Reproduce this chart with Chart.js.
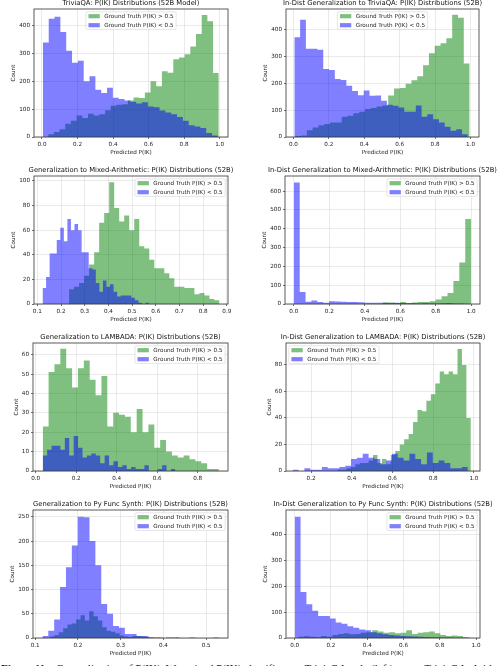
<!DOCTYPE html>
<html>
<head>
<meta charset="utf-8">
<script src="https://cdn.jsdelivr.net/npm/chart.js@4"></script>
<style>
  html, body { margin: 0; padding: 0; background: #fff; width: 500px; height: 666px; overflow: hidden; position: relative; }
  canvas { position: absolute; }
  #caption { position: absolute; left: 1px; top: 662px; font: 11px "Liberation Serif", serif; color: #111; white-space: nowrap; }
</style>
</head>
<body>
<div id="caption"><b>Figure 11</b>&nbsp;&nbsp;&nbsp; Generalization of P(IK). We trained P(IK) classifiers on TriviaQA only (left), or on TriviaQA, Arithmetic,</div>
<script>
// Text
const seriesLabels = ["Ground Truth P(IK) > 0.5", "Ground Truth P(IK) < 0.5"];
const xTitle = "Predicted P(IK)";
const yTitle = "Count";
const titles = [
  "TriviaQA: P(IK) Distributions (52B Model)",
  "In-Dist Generalization to TriviaQA: P(IK) Distributions (52B)",
  "Generalization to Mixed-Arithmetic: P(IK) Distributions (52B)",
  "In-Dist Generalization to Mixed-Arithmetic: P(IK) Distributions (52B)",
  "Generalization to LAMBADA: P(IK) Distributions (52B)",
  "In-Dist Generalization to LAMBADA: P(IK) Distributions (52B)",
  "Generalization to Py Func Synth: P(IK) Distributions (52B)",
  "In-Dist Generalization to Py Func Synth: P(IK) Distributions (52B)"
];

// Tick labels
const xTicksUnit = [0, 0.2, 0.4, 0.6, 0.8, 1.0];
const xTicksArith = [0.1, 0.2, 0.3, 0.4, 0.5, 0.6, 0.7, 0.8, 0.9];
const xTicksLambada = [0, 0.2, 0.4, 0.6, 0.8];
const xTicksLambadaIn = [0.2, 0.4, 0.6, 0.8, 1.0];
const xTicksPy = [0.1, 0.2, 0.3, 0.4, 0.5];
const yTicks400 = [0, 100, 200, 300, 400];
const yTicks100 = [0, 20, 40, 60, 80, 100];
const yTicks600 = [0, 100, 200, 300, 400, 500, 600];
const yTicks60 = [0, 10, 20, 30, 40, 50, 60];
const yTicks80 = [0, 20, 40, 60, 80];
const yTicks250 = [0, 50, 100, 150, 200, 250];

// Histogram counts, each with the [first edge, last edge] of its equal-width bins
const triviaGreenRange = [0.035, 0.995];
const triviaGreen = [10, 18, 28, 48, 58, 77, 68, 84, 77, 82, 96, 112, 116, 118, 131, 142, 140, 160, 200, 182, 236, 231, 279, 286, 297, 325, 370, 438, 416, 230];
const triviaBlueRange = [0.005, 0.99];
const triviaBlue = [340, 425, 432, 377, 310, 267, 274, 200, 218, 170, 158, 177, 141, 137, 131, 127, 120, 125, 110, 107, 95, 88, 82, 72, 58, 42, 38, 32, 14, 5];

const triviaInGreenRange = [0.01, 0.995];
const triviaInGreen = [4, 6, 25, 35, 44, 48, 54, 54, 75, 79, 88, 94, 104, 108, 113, 117, 154, 180, 182, 198, 211, 226, 267, 311, 339, 349, 367, 455, 443, 273];
const triviaInBlueRange = [0.005, 0.985];
const triviaInBlue = [371, 436, 328, 328, 324, 253, 249, 216, 212, 191, 171, 155, 173, 153, 154, 135, 120, 116, 110, 94, 94, 117, 75, 85, 66, 54, 38, 23, 29, 10];

const arithGreenRange = [0.234, 0.869];
const arithGreen = [12, 14, 17, 23, 32, 42, 66, 74, 99, 78, 67, 72, 60, 69, 47, 45, 36, 29, 29, 25, 21, 14, 14, 13, 13, 8, 9, 7, 4, 3];
const arithBlueRange = [0.122, 0.572];
const arithBlue = [13, 22, 41, 41, 52, 62, 51, 69, 60, 65, 60, 42, 42, 29, 28, 17, 10, 19, 14, 16, 10, 6, 7, 7, 7, 5, 3, 1, 0, 1];

const arithInGreenRange = [0.5, 1.0];
const arithInGreen = [8, 8, 5, 10, 5, 8, 11, 11, 14, 24, 41, 58, 122, 220, 452];
const arithInBlueRange = [0.0, 0.99];
const arithInBlue = [646, 64, 12, 19, 11, 7, 15, 13, 12, 11, 11, 9, 7, 7, 6, 6, 5, 6, 5, 4, 4, 3, 4, 3, 3, 4, 5, 3, 2, 1];

const lambadaGreenRange = [0.035, 0.905];
const lambadaGreen = [23, 51, 55, 63, 53, 43, 53, 57, 47, 39, 49, 23, 30, 29, 28, 20, 32, 20, 24, 12, 16, 10, 8, 7, 8, 6, 5, 4, 1, 1];
const lambadaBlueRange = [0.035, 0.69];
const lambadaBlue = [8, 11, 13, 13, 11, 17, 8, 18, 12, 7, 8, 9, 8, 4, 8, 3, 5, 2, 3, 1, 2, 1, 1, 3, 0, 0, 1, 3, 0, 1];

const lambadaInGreenRange = [0.33, 0.985];
const lambadaInGreen = [1, 1, 2, 3, 5, 6, 6, 8, 12, 6, 9, 5, 12, 15, 20, 24, 28, 37, 46, 45, 53, 58, 66, 75, 73, 75, 73, 92, 80, 40];
const lambadaInBlueRange = [0.11, 0.97];
const lambadaInBlue = [1, 0, 2, 1, 1, 3, 2, 2, 3, 4, 9, 10, 13, 10, 9, 5, 8, 13, 10, 8, 13, 9, 5, 14, 6, 8, 6, 2, 2, 3];

const pyGreenRange = [0.135, 0.44];
const pyGreen = [3, 6, 12, 20, 28, 30, 38, 47, 36, 55, 45, 36, 22, 15, 13, 10, 5, 3, 2, 4, 4, 3, 2, 1, 0, 1, 0, 0, 0, 1];
const pyBlueRange = [0.117, 0.53];
const pyBlue = [4, 15, 38, 105, 146, 191, 250, 249, 200, 150, 70, 50, 25, 21, 8, 8, 4, 4, 1, 1, 0, 1, 1, 0, 0, 1, 0, 0, 0, 1];

const pyInGreenRange = [0.02, 0.96];
const pyInGreen = [5, 7, 5, 3, 8, 5, 12, 15, 18, 14, 15, 20, 22, 30, 25, 20, 22, 18, 20, 30, 15, 20, 22, 25, 18, 12, 8, 10, 8, 3];
const pyInBlueRange = [0.0, 0.97];
const pyInBlue = [468, 178, 130, 105, 85, 85, 75, 60, 55, 45, 40, 33, 30, 22, 18, 14, 12, 10, 8, 7, 6, 5, 4, 3, 3, 2, 2, 1, 1, 1];

const panels = [
  {title: titles[0], green: [triviaGreenRange, triviaGreen], blue: [triviaBlueRange, triviaBlue], xTicks: xTicksUnit, xLim: [-0.045, 1.047], yTicks: yTicks400, yMax: 460},
  {title: titles[1], green: [triviaInGreenRange, triviaInGreen], blue: [triviaInBlueRange, triviaInBlue], xTicks: xTicksUnit, xLim: [-0.042, 1.048], yTicks: yTicks400, yMax: 476},
  {title: titles[2], green: [arithGreenRange, arithGreen], blue: [arithBlueRange, arithBlue], xTicks: xTicksArith, xLim: [0.086, 0.905], yTicks: yTicks100, yMax: 104},
  {title: titles[3], green: [arithInGreenRange, arithInGreen], blue: [arithInBlueRange, arithInBlue], xTicks: xTicksUnit, xLim: [-0.05, 1.05], yTicks: yTicks600, yMax: 680},
  {title: titles[4], green: [lambadaGreenRange, lambadaGreen], blue: [lambadaBlueRange, lambadaBlue], xTicks: xTicksLambada, xLim: [-0.013, 0.95], yTicks: yTicks60, yMax: 66},
  {title: titles[5], green: [lambadaInGreenRange, lambadaInGreen], blue: [lambadaInBlueRange, lambadaInBlue], xTicks: xTicksLambadaIn, xLim: [0.077, 1.03], yTicks: yTicks80, yMax: 96.6},
  {title: titles[6], green: [pyGreenRange, pyGreen], blue: [pyBlueRange, pyBlue], xTicks: xTicksPy, xLim: [0.095, 0.551], yTicks: yTicks250, yMax: 264},
  {title: titles[7], green: [pyInGreenRange, pyInGreen], blue: [pyInBlueRange, pyInBlue], xTicks: xTicksUnit, xLim: [-0.048, 1.022], yTicks: yTicks400, yMax: 494}
];

// where each plot box sits on the page: left, top, right, bottom, legend spot
const boxes = [
  [34, 9, 228, 137, "center"], [286, 9, 479, 137, "center"],
  [34, 176, 228, 304, "right"], [285, 176, 480, 304, "right"],
  [33, 343, 228, 471, "right"], [286, 343, 480, 471, "left"],
  [33, 510, 228, 638, "right"], [286, 510, 480, 638, "right"]
];

const GREEN = "rgba(0,128,0,0.5)";
const BLUE = "rgba(0,0,255,0.5)";
const FONT = "'DejaVu Sans', sans-serif";
Chart.defaults.font.family = FONT;
Chart.defaults.color = "#222";

// step outline of a histogram, closed down to zero at both ends
function histPoints(range, counts) {
  const w = (range[1] - range[0]) / counts.length;
  const pts = [{x: range[0], y: 0}];
  counts.forEach((c, i) => pts.push({x: range[0] + i * w, y: c}));
  pts.push({x: range[1], y: 0});
  return pts;
}

// frame, title and the legend drawn inside the plot
const decor = {
  id: "decor",
  afterDraw(chart, args, opts) {
    const {ctx, chartArea: a} = chart;
    ctx.save();
    ctx.strokeStyle = "#333";
    ctx.lineWidth = 0.8;
    ctx.strokeRect(a.left, a.top, a.right - a.left, a.bottom - a.top);

    ctx.fillStyle = "#111";
    ctx.font = "6.8px " + FONT;
    ctx.textAlign = "center";
    ctx.textBaseline = "middle";
    ctx.fillText(opts.title, (a.left + a.right) / 2, a.top - 5.4);

    ctx.font = "5.67px " + FONT;
    ctx.textAlign = "left";
    const sets = chart.data.datasets;
    const tw = Math.max(...sets.map(d => ctx.measureText(d.label).width));
    const w = 2.6 + 11.3 + 4.5 + tw + 2.6, h = 17.6;
    let x = (a.left + a.right - w) / 2;
    if (opts.loc === "left") x = a.left + 2.8;
    if (opts.loc === "right") x = a.right - 2.8 - w;
    const y = a.top + 2.8;
    ctx.fillStyle = "rgba(255,255,255,0.8)";
    ctx.strokeStyle = "#d4d4d4";
    ctx.lineWidth = 0.6;
    ctx.beginPath();
    ctx.roundRect(x, y, w, h, 1.5);
    ctx.fill();
    ctx.stroke();
    sets.forEach((d, i) => {
      const cy = y + 4.4 + i * 9;
      ctx.fillStyle = d.backgroundColor;
      ctx.fillRect(x + 2.6, cy - 2.1, 11.3, 4.2);
      ctx.fillStyle = "#222";
      ctx.fillText(d.label, x + 2.6 + 11.3 + 4.5, cy + 0.3);
    });
    ctx.restore();
  }
};

panels.forEach((p, i) => {
  const [L, T, R, B, loc] = boxes[i];
  const cv = document.createElement("canvas");
  cv.width = R - L + 34 + 20;
  cv.height = B - T + 10 + 20;
  cv.style.left = (L - 34) + "px";
  cv.style.top = (T - 10) + "px";
  document.body.appendChild(cv);

  const threeDigits = String(Math.max(...p.yTicks)).length > 2;
  const grid = {color: "rgba(176,176,176,0.45)", lineWidth: 0.6, tickLength: 2, tickColor: "#333", tickWidth: 0.7};

  new Chart(cv, {
    type: "line",
    data: {
      datasets: [
        {label: seriesLabels[0], data: histPoints(...p.green), backgroundColor: GREEN, order: 2},
        {label: seriesLabels[1], data: histPoints(...p.blue), backgroundColor: BLUE, order: 1}
      ].map(d => Object.assign(d, {stepped: true, fill: "origin", pointRadius: 0, borderWidth: 0, borderColor: "rgba(0,0,0,0)"}))
    },
    options: {
      responsive: false,
      animation: false,
      devicePixelRatio: 1,
      layout: {padding: {left: 0, right: 20, top: 10, bottom: 0}},
      plugins: {
        legend: {display: false},
        tooltip: {enabled: false},
        decor: {title: p.title, loc: loc}
      },
      scales: {
        x: {
          type: "linear", min: p.xLim[0], max: p.xLim[1], z: 1,
          grid: grid, border: {display: false},
          afterBuildTicks: s => { s.ticks = p.xTicks.map(v => ({value: v})); },
          afterFit: s => { s.height = 20; },
          ticks: {font: {size: 5.67}, padding: 2, maxRotation: 0, callback: v => v.toFixed(1)},
          title: {display: true, text: xTitle, font: {size: 5.67}, padding: {top: 0, bottom: 1.5}}
        },
        y: {
          type: "linear", min: 0, max: p.yMax, z: 1,
          grid: grid, border: {display: false},
          afterBuildTicks: s => { s.ticks = p.yTicks.map(v => ({value: v})); },
          afterFit: s => { s.width = 34; },
          ticks: {font: {size: 5.67}, padding: 2, callback: v => String(v)},
          title: {display: true, text: yTitle, font: {size: 5.67}, padding: {top: threeDigits ? 10.3 : 14.6, bottom: 0}}
        }
      }
    },
    plugins: [decor]
  });
});
</script>
</body>
</html>
